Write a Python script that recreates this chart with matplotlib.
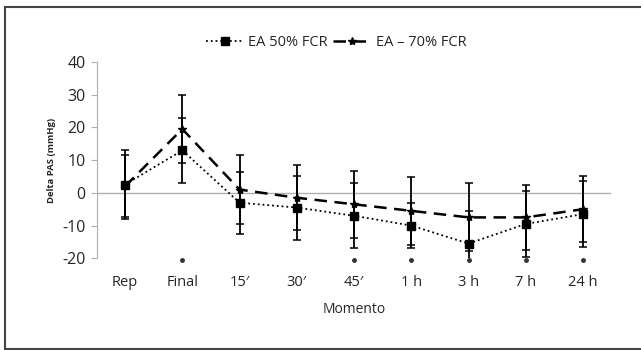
import numpy as np
import matplotlib.pyplot as plt
from matplotlib.lines import Line2D

plt.rcParams['font.family'] = ['Open Sans', 'DejaVu Sans']
plt.rcParams['axes.unicode_minus'] = False

momentos = ['Rep', 'Final', "15\u2032", "30\u2032", "45\u2032", '1 h', '3 h', '7 h', '24 h']
ea50 = [2.5, 13, -3, -4.5, -7, -10, -15.5, -9.5, -6.5]
ea50_err = [10.5, 10, 9.5, 9.8, 10, 7, 10, 10, 10]
ea70 = [2, 19.5, 1, -1.5, -3.5, -5.5, -7.5, -7.5, -5]
ea70_err = [9.5, 10.5, 10.5, 10, 10.2, 10.3, 10.4, 10, 10]
signif = [False, True, False, False, True, True, True, True, True]

x = np.arange(len(momentos))
txt = '#262626'

fig = plt.figure(figsize=(6.41, 3.5), dpi=100)
ax = fig.add_axes([0.1513, 0.262, 0.802, 0.561])

ax.axhline(0, color='#b0b0b0', lw=1.0, zorder=1)

ax.errorbar(x, ea50, yerr=ea50_err, color='black', ls=':', lw=1.3,
            marker='s', ms=6, capsize=3, elinewidth=1.3, capthick=1.1,
            zorder=3)
ax.errorbar(x, ea70, yerr=ea70_err, color='black', ls=(0, (5, 3)), lw=1.8,
            marker='*', ms=6, capsize=3, elinewidth=1.3, capthick=1.1,
            zorder=3)

xs = [xi for xi, s in zip(x, signif) if s]
ax.plot(xs, [-20.6] * len(xs), 'o', color='#333333', ms=2.5, clip_on=False)

ax.set_xlim(-0.49, 8.49)
ax.set_ylim(-20, 40)
ax.set_yticks(range(-20, 41, 10))
ax.set_xticks(x)
ax.set_xticklabels(momentos, fontsize=10.5, color=txt)
ax.tick_params(axis='x', length=0, pad=12)
ax.tick_params(axis='y', length=4, color='#b0b0b0', labelsize=11.5, pad=4,
               labelcolor=txt)

for side in ['top', 'right', 'bottom']:
    ax.spines[side].set_visible(False)
ax.spines['left'].set_color('#b0b0b0')

ax.set_ylabel('Delta PAS (mmHg)', fontsize=6.8, fontweight='bold',
              color=txt, labelpad=5)
ax.set_xlabel('Momento', fontsize=10, color=txt, labelpad=9)

handles = [Line2D([], [], color='black', ls=':', lw=1.3, marker='s', ms=6),
           Line2D([], [], color='black', ls=(0, (5, 3)), lw=1.8, marker='*', ms=6)]
ax.legend(handles, ['EA 50% FCR', 'EA \u2013 70% FCR'], loc='lower center',
          bbox_to_anchor=(0.465, 0.995), ncol=2, frameon=False, fontsize=10.5,
          handlelength=2.6, columnspacing=0.4, handletextpad=0.3,
          labelcolor=txt)

# outer frame
fig.add_artist(Line2D([0.008, 0.008], [0.003, 0.98], color='#444444', lw=1.5))
fig.add_artist(Line2D([0.008, 1.0], [0.98, 0.98], color='#444444', lw=1.5))
fig.add_artist(Line2D([0.008, 1.0], [0.003, 0.003], color='#444444', lw=1.5))

fig.savefig('out.png', dpi=100)
